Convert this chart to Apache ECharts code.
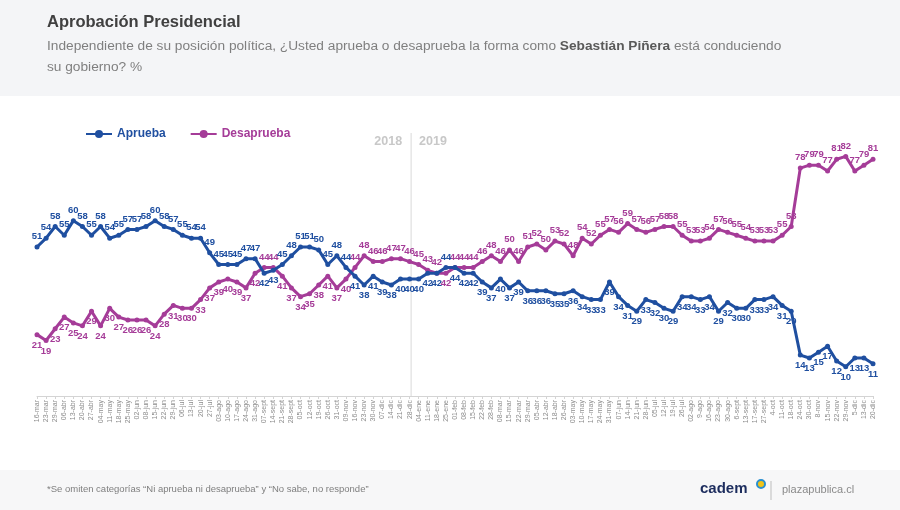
<!DOCTYPE html>
<html>
<head>
<meta charset="utf-8">
<script src="https://cdn.jsdelivr.net/npm/echarts@6/dist/echarts.min.js"></script>
<style>
html,body{margin:0;padding:0;background:#fff;}
#c{width:900px;height:510px;}
</style>
</head>
<body>
<div id="c"></div>
<script>
const categories = ["16-mar","23-mar","29-mar","06-abr","13-abr","20-abr","27-abr","04-may","11-may","18-may","25-may","02-jun","08-jun","15-jun","22-jun","29-jun","06-jul","13-jul","20-jul","27-jul","03-ago","10-ago","17-ago","24-ago","31-ago","07-sept","14-sept","21-sept","28-sept","05-oct","12-oct","19-oct","26-oct","31-oct","09-nov","16-nov","23-nov","30-nov","07-dic","14-dic","21-dic","28-dic","04-ene","11-ene","18-ene","25-ene","01-feb","08-feb","15-feb","22-feb","28-feb","08-mar","15-mar","22-mar","29-mar","05-abr","12-abr","18-abr","26-abr","03-may","10-may","17-may","24-may","31-may","07-jun","14-jun","21-jun","28-jun","05-jul","12-jul","19-jul","26-jul","02-ago","9-ago","16-ago","23-ago","30-ago","6-sept","13-sept","17-sept","27-sept","4-oct","11-oct","18-oct","24-oct","30-oct","8-nov","15-nov","22-nov","29-nov","5-dic","13-dic","20-dic"];

const aprueba = [51,54,58,55,60,58,55,58,54,55,57,57,58,60,58,57,55,54,54,49,45,45,45,47,47,42,43,45,48,51,51,50,45,48,44,41,38,41,39,38,40,40,40,42,42,44,44,42,42,39,37,40,37,39,36,36,36,35,35,36,34,33,33,39,34,31,29,33,32,30,29,34,34,33,34,29,32,30,30,33,33,34,31,29,14,13,15,17,12,10,13,13,11];

const desaprueba = [21,19,23,27,25,24,29,24,30,27,26,26,26,24,28,31,30,30,33,37,39,40,39,37,42,44,44,41,37,34,35,38,41,37,40,44,48,46,46,47,47,46,45,43,42,42,44,44,44,46,48,46,50,46,51,52,50,53,52,48,54,52,55,57,56,59,57,56,57,58,58,55,53,53,54,57,56,55,54,53,53,53,55,58,78,79,79,77,81,82,77,79,81];

const seriesNames = ["Aprueba","Desaprueba"];
const yearLabels = ["2018","2019"];
const lastIndex2018 = 41;

const BLUE = '#1F4FA0';
const MAG = '#A53C98';
const FONT = '"Liberation Sans", Arial, sans-serif';

function buildData(vals, other, isBlue){
  return vals.map((v,i)=>{
    const o = other[i];
    let pos;
    if (isBlue) pos = v > o ? 'top' : 'bottom';
    else pos = v >= o ? 'top' : 'bottom';
    return {value: v, label: {position: pos}};
  });
}

const chart = echarts.init(document.getElementById('c'), null, {renderer:'canvas'});

const option = {
  backgroundColor: '#ffffff',
  animation: false,
  textStyle: {fontFamily: FONT},
  grid: {left: 37, right: 27, top: 133, bottom: 114, containLabel: false},
  legend: {
    left: 80, top: 123, itemGap: 24, itemWidth: 26, itemHeight: 10,
    data: [
      {name: seriesNames[0], textStyle: {color: BLUE}},
      {name: seriesNames[1], textStyle: {color: MAG}}
    ],
    textStyle: {fontSize: 12, fontWeight: 'bold', fontFamily: FONT}
  },
  xAxis: {
    type: 'category', boundaryGap: false, data: categories,
    axisLine: {lineStyle: {color: '#d4d4d4', width: 1}},
    axisTick: {show: true, length: 3, lineStyle: {color: '#d4d4d4'}},
    axisLabel: {rotate: 90, interval: 0, fontSize: 7, color: '#8c8c8c', margin: 4, fontFamily: FONT}
  },
  yAxis: {type: 'value', min: 0, max: 90, show: false},
  series: [
    {
      name: seriesNames[0], type: 'line', data: buildData(aprueba, desaprueba, true),
      color: BLUE, symbol: 'circle', symbolSize: 5, showSymbol: true,
      lineStyle: {width: 3, color: BLUE}, itemStyle: {color: BLUE},
      label: {show: true, fontSize: 9.5, fontWeight: 'bold', color: BLUE, distance: 3, fontFamily: FONT},
      z: 3
    },
    {
      name: seriesNames[1], type: 'line', data: buildData(desaprueba, aprueba, false),
      color: MAG, symbol: 'circle', symbolSize: 5, showSymbol: true,
      lineStyle: {width: 3, color: MAG}, itemStyle: {color: MAG},
      label: {show: true, fontSize: 9.5, fontWeight: 'bold', color: MAG, distance: 3, fontFamily: FONT},
      z: 2
    }
  ],
  graphic: [
    {type:'rect', z:-10, silent:true, shape:{x:0,y:0,width:900,height:96}, style:{fill:'#f4f5f7'}},
    {type:'rect', z:-10, silent:true, shape:{x:0,y:470,width:900,height:40}, style:{fill:'#f7f7f8'}},
    {type:'text', left: 47, top: 14, style:{text:'Aprobación Presidencial', font:'bold 16.5px ' + FONT, fill:'#404040'}},
    {type:'text', left: 47, top: 39, style:{
      text:'{n|Independiente de su posición política, ¿Usted aprueba o desaprueba la forma como }{b|Sebastián Piñera}{n| está conduciendo}',
      rich:{n:{font:'13.7px ' + FONT, fill:'#7f7f7f'}, b:{font:'bold 13.7px ' + FONT, fill:'#595959'}}
    }},
    {type:'text', left: 47, top: 60, style:{text:'su gobierno? %', font:'13.7px ' + FONT, fill:'#7f7f7f'}},
    {type:'text', left: 47, top: 484, style:{text:'*Se omiten categorías “Ni aprueba ni desaprueba” y “No sabe, no responde”', font:'9.5px ' + FONT, fill:'#7f7f7f'}},
    {type:'text', left: 700, top: 481, style:{text:'cadem', font:'bold 15px ' + FONT, fill:'#1d2d5e'}},
    {type:'circle', shape:{cx:761, cy:484, r:4}, style:{fill:'#f2c418', stroke:'#2a8fd0', lineWidth:2}},
    {type:'line', shape:{x1:771, y1:481, x2:771, y2:500}, style:{stroke:'#bdbdbd', lineWidth:1}},
    {type:'text', left: 782, top: 484, style:{text:'plazapublica.cl', font:'11px ' + FONT, fill:'#8a8a8a'}}
  ]
};
chart.setOption(option);

// Year divider between last 2018 and first 2019 category
const xa = chart.convertToPixel({xAxisIndex:0}, lastIndex2018);
const xb = chart.convertToPixel({xAxisIndex:0}, lastIndex2018 + 1);
const xd = (xa + xb) / 2 - 3;
const yTop = chart.convertToPixel({yAxisIndex:0}, 90);
const yBot = chart.convertToPixel({yAxisIndex:0}, 0);
const g = option.graphic.slice();
g.push({type:'line', z:-5, shape:{x1:xd, y1:yTop, x2:xd, y2:yBot}, style:{stroke:'#d9d9d9', lineWidth:1}});
g.push({type:'text', x: xd - 9, y: 135, style:{text: yearLabels[0], font:'bold 12.5px ' + FONT, fill:'#c8c8c8', textAlign:'right'}});
g.push({type:'text', x: xd + 8, y: 135, style:{text: yearLabels[1], font:'bold 12.5px ' + FONT, fill:'#c8c8c8', textAlign:'left'}});
chart.setOption({graphic: g}, {replaceMerge: ['graphic']});
</script>
</body>
</html>
